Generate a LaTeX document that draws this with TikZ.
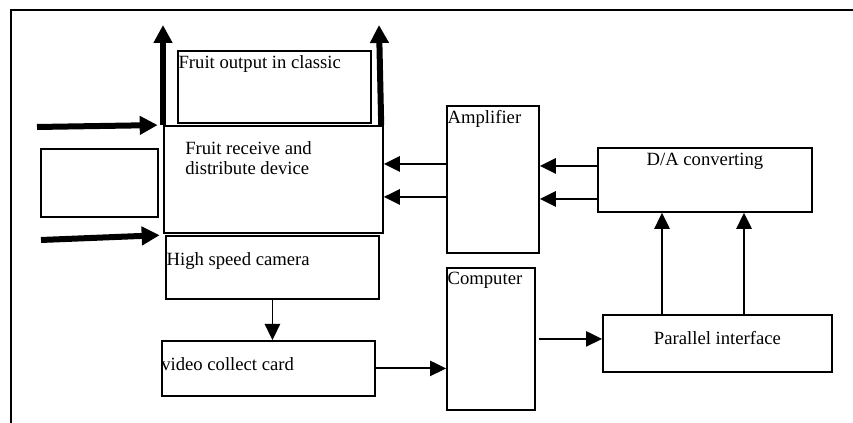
\documentclass[tikz,border=0pt]{standalone}
\usepackage{fontspec}
\setmainfont{Liberation Serif}
\usetikzlibrary{arrows.meta}
\begin{document}
\begin{tikzpicture}[x=0.75pt, y=-0.75pt,
    box/.style={draw, line width=1.4pt, inner sep=0pt, anchor=north west},
    txt/.style={font=\fontsize{14}{15}\selectfont, inner sep=0pt, align=left},
    thin/.style={line width=1.4pt, -{Triangle[length=12pt, width=11.5pt]}},
    fat/.style={line width=4.5pt, -{Triangle[length=13.5pt, width=13.5pt]}}]
    \useasboundingbox (0,0) rectangle (853,423);
    % Frame
    \draw[line width=1.4pt] (11,423) -- (11,10) -- (853,10);
    % Left part
    \node[box, minimum width=144.75pt, minimum height=54pt,
        label={[txt, anchor=north west, xshift=1pt, yshift=-4pt]north west:Fruit output in classic}] (out) at (177,50) {};
    \node[box, minimum width=164.25pt, minimum height=80.25pt,
        label={[txt, anchor=north west, xshift=16.5pt, yshift=-12pt]north west:Fruit receive and\\distribute device}] (recv) at (163,125) {};
    \node[box, minimum width=87.75pt, minimum height=51pt] (blank) at (40,148) {};
    \node[box, minimum width=159.75pt, minimum height=47.25pt,
        label={[txt, anchor=north west, xshift=1pt, yshift=-13pt]north west:High speed camera}] (cam) at (165,235) {};
    \node[box, minimum width=159.75pt, minimum height=41.25pt,
        label={[txt, anchor=north west, xshift=0pt, yshift=-13pt]north west:video collect card}] (video) at (161,340) {};
    % Middle part
    \node[box, minimum width=69pt, minimum height=110.25pt,
        label={[txt, anchor=north west, xshift=1pt, yshift=-4pt]north west:Amplifier}] (amp) at (446,105) {};
    \node[box, minimum width=66pt, minimum height=106.5pt,
        label={[txt, anchor=north west, xshift=1pt, yshift=-4pt]north west:Computer}] (comp) at (446,267) {};
    % Right part
    \node[box, minimum width=160.5pt, minimum height=48pt,
        label={[txt, anchor=north, yshift=-4.5pt]north:D/A converting}] (dac) at (597,147) {};
    \node[box, minimum width=171.75pt, minimum height=42.75pt,
        label={[txt, anchor=north, yshift=-13pt]north:Parallel interface}] (par) at (602,314) {};
    % Fruit in and out
    \coordinate (outL) at (163,25);
    \coordinate (outR) at (379,25);
    \coordinate (inA) at (37,127);
    \coordinate (inB) at (41,240);
    \draw[fat] (recv.north west) -- (outL);
    \draw[fat] ([xshift=-2pt]recv.north east) -- (outR);
    \draw[fat, shorten >=4pt] (inA) -- (recv.north west);
    \draw[fat, shorten >=4pt] (inB) -- (cam.north west);
    % Signal path
    \draw[thin] (cam.south) -- (cam.south |- video.north);
    \draw[thin] (video.east) -- (video.east -| comp.west);
    \draw[thin, shorten <=2pt] (comp.east) -- (comp.east -| par.west);
    \coordinate (p1) at ([xshift=45pt]par.north west);
    \coordinate (p2) at ([xshift=106.5pt]par.north west);
    \draw[thin] (p1) -- (p1 |- dac.south);
    \draw[thin] (p2) -- (p2 |- dac.south);
    \coordinate (d1) at ([yshift=10.5pt]dac.west);
    \coordinate (d2) at ([yshift=-14.25pt]dac.west);
    \draw[thin] (d1) -- (d1 -| amp.east);
    \draw[thin] (d2) -- (d2 -| amp.east);
    \coordinate (a1) at ([yshift=11.6pt]amp.west);
    \coordinate (a2) at ([yshift=-13.1pt]amp.west);
    \draw[thin] (a1) -- (a1 -| recv.east);
    \draw[thin] (a2) -- (a2 -| recv.east);
\end{tikzpicture}
\end{document}
